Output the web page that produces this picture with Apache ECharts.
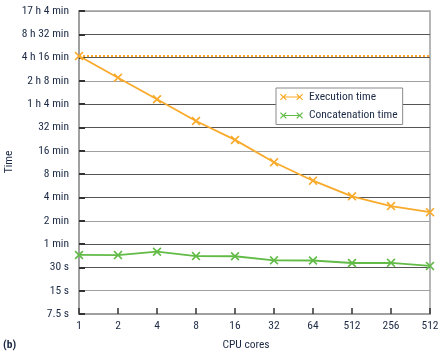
<!DOCTYPE html>
<html>
<head>
<meta charset="utf-8">
<script src="https://cdn.jsdelivr.net/npm/echarts@6/dist/echarts.min.js"></script>
<style>html,body{margin:0;padding:0;background:#fff}#c{width:447px;height:360px}</style>
</head>
<body>
<div id="c"></div>
<script>
var categories = ['1', '2', '4', '8', '16', '32', '64', '512', '256', '512'];
// seconds
var executionTime = [16100, 8450, 4450, 2330, 1330, 683, 395, 248, 186, 155];
var concatenationTime = [43.4, 43.2, 47.8, 42, 41.8, 37, 36.8, 34.2, 34.4, 31.3];
var yTickLabels = ['7.5 s', '15 s', '30 s', '1 min', '2 min', '4 min', '8 min', '16 min', '32 min', '1 h 4 min', '2 h 8 min', '4 h 16 min', '8 h 32 min', '17 h 4 min'];
var baseSeconds = 7.5;

var FONT = '"Roboto Condensed", "DejaVu Sans Condensed", sans-serif';
var FS = 11.5;
var TXT = '#1c2a45';
var ORANGE = '#f9aa2b';
var GREEN = '#62bb47';

function lg(v) { return Math.log2(v / baseSeconds); }

function xShape(cx, cy, h, t) {
  var p = [
    [cx - h, cy - h + t], [cx - h + t, cy - h], [cx, cy - t], [cx + h - t, cy - h],
    [cx + h, cy - h + t], [cx + t, cy], [cx + h, cy + h - t], [cx + h - t, cy + h],
    [cx, cy + t], [cx - h + t, cy + h], [cx - h, cy + h - t], [cx - t, cy]
  ];
  return 'M' + p.map(function (q) { return q[0] + ',' + q[1]; }).join('L') + 'Z';
}
var markerPath = 'path://' + xShape(3.5, 3.5, 3.5, 0.9);
var legendPath = 'path://' + xShape(3.5, 4, 3.5, 0.9) + 'M3.5,3.4L20.5,3.4L20.5,4.6L3.5,4.6Z' + xShape(20.5, 4, 3.5, 0.9);

var chart = echarts.init(document.getElementById('c'), null, {renderer: 'canvas'});
chart.setOption({
  animation: false,
  backgroundColor: '#fff',
  textStyle: {fontFamily: FONT},
  grid: {left: 79, right: 17, top: 11, bottom: 46, show: true, borderColor: '#a0a0a0', borderWidth: 1.5},
  legend: {
    orient: 'vertical', left: 276, top: 88,
    padding: [3, 5, 3, 4],
    itemWidth: 23, itemHeight: 7, itemGap: 6.5,
    borderColor: '#8a8a8a', borderWidth: 1, backgroundColor: '#fff',
    textStyle: {fontFamily: FONT, fontSize: FS, color: TXT, padding: [0, 0, 0, 1]},
    data: [
      {name: 'Execution time', icon: legendPath},
      {name: 'Concatenation time', icon: legendPath}
    ]
  },
  xAxis: {
    type: 'category', data: categories, boundaryGap: false,
    axisLine: {lineStyle: {color: '#a0a0a0', width: 2}},
    axisTick: {inside: true, length: 6, lineStyle: {color: '#333', width: 1.5}},
    axisLabel: {color: TXT, fontSize: FS, fontFamily: FONT, margin: 6},
    splitLine: {show: false}
  },
  yAxis: {
    type: 'value', min: 0, max: 13, interval: 1,
    axisLine: {show: true, lineStyle: {color: '#a0a0a0', width: 2}},
    axisTick: {show: true, inside: true, length: 6, lineStyle: {color: '#333', width: 2}},
    axisLabel: {color: TXT, fontSize: FS, fontFamily: FONT, margin: 10,
      formatter: function (v) { return yTickLabels[Math.round(v)] || ''; }},
    splitLine: {show: true, lineStyle: {color: ['#555', '#a0a0a0', '#555'], width: 1.2}}
  },
  graphic: [
    {type: 'text', x: 9, y: 162, rotation: Math.PI / 2,
      style: {text: 'Time', font: FS + 'px ' + FONT, fill: TXT, textAlign: 'center', textVerticalAlign: 'middle'}},
    {type: 'text', x: 246, y: 345,
      style: {text: 'CPU cores', font: FS + 'px ' + FONT, fill: TXT, textAlign: 'center', textVerticalAlign: 'middle'}},
    {type: 'text', x: 3, y: 345,
      style: {text: '(b)', font: 'bold ' + FS + 'px ' + FONT, fill: TXT, textAlign: 'left', textVerticalAlign: 'middle'}}
  ],
  series: [
    {
      name: 'Execution time', type: 'line',
      data: executionTime.map(lg),
      symbol: markerPath, symbolSize: 9,
      lineStyle: {color: ORANGE, width: 1.8},
      itemStyle: {color: ORANGE},
      z: 5,
      markLine: {
        silent: true, symbol: 'none', label: {show: false},
        lineStyle: {color: ORANGE, type: [2, 2], width: 2},
        data: [{yAxis: lg(executionTime[0])}]
      }
    },
    {
      name: 'Concatenation time', type: 'line',
      data: concatenationTime.map(lg),
      symbol: markerPath, symbolSize: 9,
      lineStyle: {color: GREEN, width: 1.8},
      itemStyle: {color: GREEN},
      z: 5
    }
  ]
});
</script>
</body>
</html>
